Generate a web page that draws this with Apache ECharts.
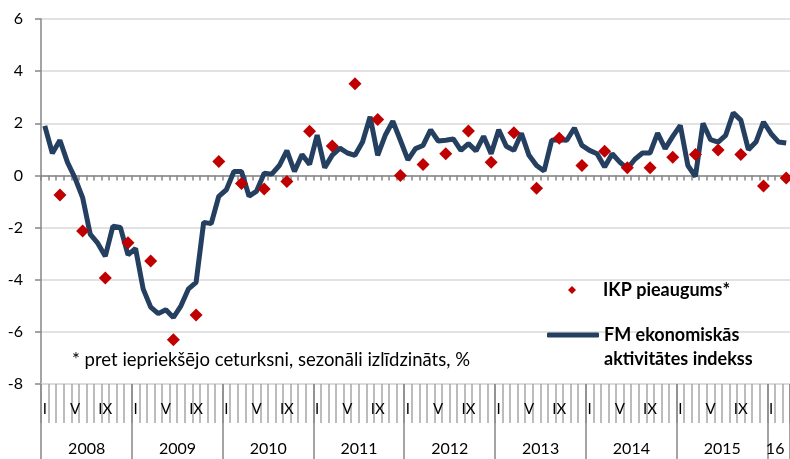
<!DOCTYPE html>
<html>
<head>
<meta charset="utf-8">
<script src="https://cdn.jsdelivr.net/npm/echarts@6/dist/echarts.min.js"></script>
<style>
html, body { margin: 0; padding: 0; background: #fff; }
#chart { width: 790px; height: 459px; }
</style>
</head>
<body>
<div id="chart"></div>
<script>
// mēneši 2008-01 .. 2016-03
const months = []
for (let y = 2008; y <= 2016; y++) {
  for (let m = 1; m <= 12; m++) {
    if (y === 2016 && m > 3) break
    months.push(y + '-' + (m < 10 ? '0' + m : m))
  }
}
const monthMarks = ['I', '', '', '', 'V', '', '', '', 'IX', '', '', '']
const yearLabels = ['2008', '2009', '2010', '2011', '2012', '2013', '2014', '2015', '16']

// FM ekonomiskās aktivitātes indekss (mēneša)
const activityIndex = [
  1.9, 0.85, 1.35, 0.5, -0.1, -0.85, -2.25, -2.6, -3.1, -1.95, -2.0, -3.05,
  -2.8, -4.35, -5.05, -5.3, -5.15, -5.45, -5.0, -4.35, -4.1, -1.8, -1.85, -0.8,
  -0.55, 0.15, 0.15, -0.8, -0.6, 0.08, 0.05, 0.38, 0.95, 0.15, 0.8, 0.42,
  1.55, 0.3, 0.78, 1.05, 0.86, 0.77, 1.28, 2.25, 0.77, 1.54, 2.08, 1.35,
  0.6, 1.03, 1.15, 1.75, 1.32, 1.35, 1.4, 0.96, 1.22, 0.94, 1.5, 0.83,
  1.75, 1.12, 0.96, 1.62, 0.77, 0.38, 0.17, 1.35, 1.37, 1.35, 1.82, 1.15,
  0.96, 0.83, 0.32, 0.83, 0.51, 0.26, 0.62, 0.86, 0.86, 1.62, 1.03, 1.5,
  1.92, 0.38, -0.04, 2.0, 1.37, 1.28, 1.54, 2.4, 2.12, 0.99, 1.28, 2.05,
  1.6, 1.28, 1.24
]

// IKP pieaugums (ceturkšņa, pret iepriekšējo ceturksni), 2008 Q1 .. 2016 Q1
const gdpGrowth = [
  -0.75, -2.13, -3.93, -2.58,
  -3.28, -6.3, -5.35, 0.53,
  -0.31, -0.52, -0.23, 1.69,
  1.13, 3.52, 2.15, 0.0,
  0.42, 0.83, 1.7, 0.51,
  1.64, -0.49, 1.43, 0.38,
  0.93, 0.29, 0.29, 0.7,
  0.8, 0.98, 0.8, -0.41,
  -0.1
]

// ceturkšņa punkts - ceturkšņa pēdējā mēnesī
const gdpMonthly = months.map((m, i) => (i % 3 === 2 ? gdpGrowth[(i - 2) / 3] : '-'))

const font = 'Lato, "Open Sans", sans-serif'
const gray = '#868686'
const navy = '#243f60'
const red = '#c00000'

const myChart = echarts.init(document.getElementById('chart'))
myChart.setOption({
  animation: false,
  textStyle: { fontFamily: font },
  title: {
    text: '* pret iepriekšējo ceturksni, sezonāli izlīdzināts, %',
    left: 72,
    top: 351,
    padding: 0,
    textStyle: { fontSize: 18.5, fontWeight: 'normal', color: '#000', fontFamily: font }
  },
  legend: [
    {
      data: [{ name: 'IKP pieaugums*', icon: 'diamond' }],
      left: 568,
      top: 278,
      padding: 0,
      itemWidth: 8,
      itemHeight: 8,
      selectedMode: false,
      itemStyle: { color: red, opacity: 1 },
      textStyle: { fontSize: 18, fontWeight: 'bold', color: '#000', lineHeight: 24, padding: [0, 0, 0, 22], fontFamily: font }
    },
    {
      data: [{ name: 'FM ekonomiskās aktivitātes indekss', icon: 'roundRect' }],
      left: 547,
      top: 299,
      padding: 0,
      itemWidth: 52,
      itemHeight: 5,
      selectedMode: false,
      itemStyle: { color: navy },
      // tukšā pirmā rinda, lai pirmā teksta rinda ir pret līniju
      formatter: () => '\u00a0\nFM ekonomiskās\naktivitātes indekss',
      textStyle: { fontSize: 18, fontWeight: 'bold', color: '#000', lineHeight: 24, fontFamily: font }
    }
  ],
  grid: {
    left: 41,
    right: 0,
    top: 19,
    bottom: 75,
    containLabel: false
  },
  xAxis: [
    {
      // ass pie nulles ar īsām atzīmēm
      type: 'category',
      data: months,
      position: 'bottom',
      boundaryGap: true,
      axisLine: { onZero: true, lineStyle: { color: gray, width: 1.5 } },
      axisTick: { show: true, interval: 0, length: 5, lineStyle: { color: gray, width: 1.5 } },
      axisLabel: { show: false },
      splitLine: { show: false }
    },
    {
      // mēnešu rinda apakšā
      type: 'category',
      data: months,
      position: 'bottom',
      boundaryGap: true,
      axisLine: { onZero: false, lineStyle: { color: '#d9d9d9', width: 1.5 } },
      axisTick: { show: true, interval: 0, length: 39, lineStyle: { color: '#a6a6a6', width: 1.5 } },
      axisLabel: {
        interval: 0,
        margin: 18,
        fontSize: 15,
        color: '#000',
        formatter: (v, i) => monthMarks[i % 12]
      },
      splitLine: { show: false }
    },
    {
      // gadu rinda
      type: 'category',
      data: months,
      position: 'bottom',
      boundaryGap: true,
      axisLine: { show: false, onZero: false },
      axisTick: {
        show: true,
        interval: (i) => i % 12 === 0,
        length: 75,
        lineStyle: { color: gray, width: 1.5 }
      },
      axisLabel: {
        interval: (i) => i % 12 === 6 || i === months.length - 2,
        margin: 57,
        fontSize: 16,
        color: '#000',
        padding: [0, 7, 0, 0],
        formatter: (v, i) => yearLabels[Math.floor(i / 12)]
      },
      splitLine: { show: false }
    }
  ],
  yAxis: {
    type: 'value',
    min: -8,
    max: 6,
    interval: 2,
    axisLine: { show: true, lineStyle: { color: gray, width: 1.5 } },
    axisTick: { show: true, length: 6, lineStyle: { color: gray, width: 1.5 } },
    axisLabel: { fontSize: 16, color: '#000', margin: 18 },
    splitLine: { lineStyle: { color: '#d9d9d9', width: 1.5 } }
  },
  series: [
    {
      name: 'FM ekonomiskās aktivitātes indekss',
      type: 'line',
      xAxisIndex: 0,
      data: activityIndex,
      showSymbol: false,
      symbol: 'none',
      lineStyle: { color: navy, width: 5 },
      itemStyle: { color: navy },
      z: 3
    },
    {
      name: 'IKP pieaugums*',
      type: 'scatter',
      xAxisIndex: 0,
      data: gdpMonthly,
      symbol: 'diamond',
      symbolSize: 13,
      itemStyle: { color: red, opacity: 1 },
      z: 4
    }
  ]
})
window.addEventListener('resize', () => {
  myChart.resize()
})
</script>
</body>
</html>
